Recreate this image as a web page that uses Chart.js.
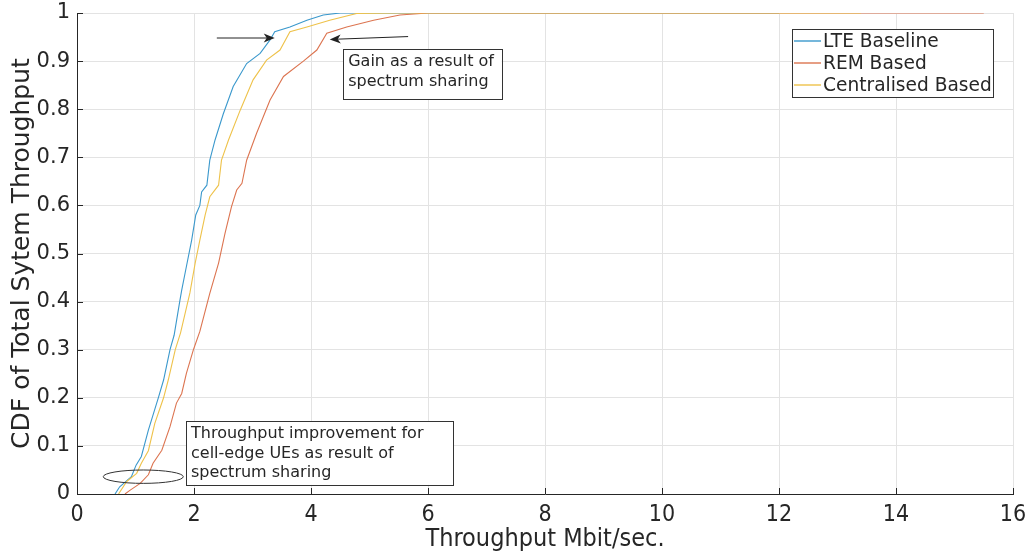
<!DOCTYPE html>
<html>
<head>
<meta charset="utf-8">
<script src="https://cdn.jsdelivr.net/npm/chart.js@4/dist/chart.umd.min.js"></script>
<style>
  body { margin: 0; background: #fff; }
</style>
</head>
<body>
<canvas id="cdfChart" width="1029" height="556"></canvas>
<script>
// CDF of throughput
const lteX = [0.65, 0.73, 0.93, 1.01, 1.10, 1.22, 1.39, 1.48, 1.59, 1.66, 1.76, 1.79, 1.87, 1.96, 2.03, 2.10, 2.13, 2.22, 2.27, 2.36, 2.50, 2.67, 2.90, 3.13, 3.30, 3.38, 3.64, 3.93, 4.21, 4.50, 4.80, 12.0];
const lteY = [0, 0.015, 0.036, 0.06, 0.078, 0.133, 0.20, 0.237, 0.30, 0.33, 0.403, 0.424, 0.473, 0.528, 0.58, 0.60, 0.628, 0.642, 0.694, 0.736, 0.79, 0.847, 0.895, 0.916, 0.944, 0.961, 0.971, 0.985, 0.996, 1.0, 1.0, 1.0];

const remX = [0.82, 0.91, 1.08, 1.22, 1.30, 1.45, 1.59, 1.70, 1.79, 1.87, 1.99, 2.10, 2.27, 2.42, 2.53, 2.64, 2.73, 2.82, 2.90, 3.07, 3.30, 3.53, 3.87, 4.10, 4.27, 4.61, 5.07, 5.52, 6.0, 15.5];
const remY = [0, 0.008, 0.022, 0.04, 0.064, 0.091, 0.14, 0.189, 0.209, 0.251, 0.30, 0.338, 0.417, 0.48, 0.542, 0.597, 0.632, 0.646, 0.694, 0.75, 0.819, 0.868, 0.90, 0.923, 0.958, 0.971, 0.985, 0.996, 1.0, 1.0];

const cenX = [0.71, 0.85, 1.02, 1.10, 1.22, 1.33, 1.48, 1.56, 1.68, 1.77, 1.93, 2.02, 2.10, 2.19, 2.27, 2.42, 2.47, 2.59, 2.79, 3.01, 3.24, 3.47, 3.64, 3.93, 4.32, 4.78, 5.5, 13.4];
const cenY = [0, 0.026, 0.043, 0.064, 0.09, 0.147, 0.20, 0.237, 0.30, 0.335, 0.418, 0.48, 0.528, 0.58, 0.618, 0.642, 0.694, 0.736, 0.798, 0.861, 0.902, 0.923, 0.961, 0.971, 0.985, 0.999, 1.0, 1.0];

const seriesNames = ['LTE Baseline', 'REM Based', 'Centralised Based'];
const seriesColors = ['#3a98cc', '#dc7450', '#eec24a'];

const xTicks = [0, 2, 4, 6, 8, 10, 12, 14, 16];
const yTicks = ['0', '0.1', '0.2', '0.3', '0.4', '0.5', '0.6', '0.7', '0.8', '0.9', '1'];

const toPts = (xs, ys) => xs.map((x, i) => ({ x, y: ys[i] }));

const ink = '#262626';
const fontN = 'DejaVu Sans';
const fontC = '"DejaVu Sans Condensed", "DejaVu Sans"';

// annotations in data units
const arrows = [
  { from: [2.39, 0.948], to: [3.38, 0.948] },
  { from: [5.66, 0.951], to: [4.32, 0.945] }
];
const noteBoxes = [
  { box: [4.55, 0.925, 7.26, 0.821], lines: ['Gain as a result of', 'spectrum sharing'] },
  { box: [1.863, 0.152, 6.43, 0.019], lines: ['Throughput improvement for', 'cell-edge UEs as result of', 'spectrum sharing'] }
];
const ellipse = { cx: 1.133, cy: 0.036, rx: 0.684, ry: 0.0139 };

const extrasPlugin = {
  id: 'extras',
  afterDatasetsDraw(chart) {
    const { ctx, chartArea, scales: { x, y } } = chart;
    ctx.save();

    // inward tick marks (matlab style)
    ctx.strokeStyle = ink;
    ctx.lineWidth = 1;
    ctx.beginPath();
    xTicks.forEach(v => {
      const px = Math.round(x.getPixelForValue(v)) + 0.5;
      ctx.moveTo(px, chartArea.bottom);
      ctx.lineTo(px, chartArea.bottom - 6);
    });
    yTicks.forEach(v => {
      const py = Math.round(y.getPixelForValue(+v)) + 0.5;
      ctx.moveTo(chartArea.left, py);
      ctx.lineTo(chartArea.left + 6, py);
    });
    ctx.stroke();

    // arrows
    ctx.strokeStyle = '#222';
    ctx.fillStyle = '#222';
    arrows.forEach(a => {
      const x0 = x.getPixelForValue(a.from[0]), y0 = y.getPixelForValue(a.from[1]);
      const x1 = x.getPixelForValue(a.to[0]), y1 = y.getPixelForValue(a.to[1]);
      const ang = Math.atan2(y1 - y0, x1 - x0);
      ctx.beginPath();
      ctx.moveTo(x0, y0);
      ctx.lineTo(x1 - 6 * Math.cos(ang), y1 - 6 * Math.sin(ang));
      ctx.stroke();
      ctx.save();
      ctx.translate(x1, y1);
      ctx.rotate(ang);
      ctx.beginPath();
      ctx.moveTo(0, 0);
      ctx.lineTo(-11, -4.5);
      ctx.lineTo(-8, 0);
      ctx.lineTo(-11, 4.5);
      ctx.closePath();
      ctx.fill();
      ctx.restore();
    });

    // text boxes
    noteBoxes.forEach(n => {
      const l = x.getPixelForValue(n.box[0]), t = y.getPixelForValue(n.box[1]);
      const r = x.getPixelForValue(n.box[2]), b = y.getPixelForValue(n.box[3]);
      ctx.fillStyle = '#fff';
      ctx.fillRect(l, t, r - l, b - t);
      ctx.strokeStyle = '#333';
      ctx.strokeRect(Math.round(l) + 0.5, Math.round(t) + 0.5, Math.round(r - l), Math.round(b - t));
      ctx.fillStyle = ink;
      ctx.font = `16px ${fontN}`;
      ctx.textBaseline = 'middle';
      ctx.textAlign = 'left';
      n.lines.forEach((s, i) => ctx.fillText(s, l + 5, t + 13 + i * 19.5));
    });

    // ellipse around the cell-edge area
    ctx.strokeStyle = '#333';
    ctx.beginPath();
    const ex = x.getPixelForValue(ellipse.cx), ey = y.getPixelForValue(ellipse.cy);
    const erx = x.getPixelForValue(ellipse.cx + ellipse.rx) - ex;
    const ery = ey - y.getPixelForValue(ellipse.cy + ellipse.ry);
    ctx.ellipse(ex, ey, erx, ery, 0, 0, Math.PI * 2);
    ctx.stroke();

    // legend box
    const lx = chartArea.right - 221, ly = chartArea.top + 16;
    ctx.fillStyle = '#fff';
    ctx.fillRect(lx, ly, 201, 68);
    ctx.strokeStyle = '#333';
    ctx.strokeRect(lx + 0.5, ly + 0.5, 201, 68);
    ctx.font = `18.6px ${fontN}`;
    ctx.textBaseline = 'middle';
    ctx.lineWidth = 1.4;
    seriesNames.forEach((name, i) => {
      const cy = ly + 12 + i * 22;
      ctx.strokeStyle = seriesColors[i];
      ctx.beginPath();
      ctx.moveTo(lx + 2, cy);
      ctx.lineTo(lx + 29, cy);
      ctx.stroke();
      ctx.fillStyle = ink;
      ctx.fillText(name, lx + 31, cy + 1);
    });

    ctx.restore();
  }
};

const ctx = document.getElementById('cdfChart').getContext('2d');
new Chart(ctx, {
  type: 'line',
  data: {
    datasets: [
      { label: seriesNames[0], data: toPts(lteX, lteY), borderColor: seriesColors[0], order: 2 },
      { label: seriesNames[1], data: toPts(remX, remY), borderColor: seriesColors[1], order: 1 },
      { label: seriesNames[2], data: toPts(cenX, cenY), borderColor: seriesColors[2], order: 0 }
    ]
  },
  options: {
    responsive: false,
    animation: false,
    elements: {
      line: { borderWidth: 1.1, tension: 0, fill: false },
      point: { radius: 0 }
    },
    layout: { padding: { top: 13, right: 16, left: 0, bottom: 0 } },
    plugins: {
      legend: { display: false },
      tooltip: { enabled: false }
    },
    scales: {
      x: {
        type: 'linear',
        min: 0,
        max: 16,
        afterBuildTicks: s => { s.ticks = xTicks.map(v => ({ value: v })); },
        afterFit: s => { s.height = 62; s.paddingLeft = 0; s.paddingRight = 0; },
        ticks: {
          color: ink,
          font: { family: fontC, size: 23 },
          padding: 7,
          maxRotation: 0,
          callback: v => String(v)
        },
        grid: { color: '#e3e3e3', drawTicks: false },
        border: { color: ink },
        title: {
          display: true,
          text: 'Throughput Mbit/sec.',
          color: ink,
          font: { family: fontC, size: 25 },
          padding: { top: 0, bottom: 2 }
        }
      },
      y: {
        type: 'linear',
        min: 0,
        max: 1,
        afterBuildTicks: s => { s.ticks = yTicks.map(v => ({ value: +v })); },
        afterFit: s => { s.width = 77; s.paddingTop = 0; s.paddingBottom = 0; },
        ticks: {
          color: ink,
          font: { family: fontN, size: 21 },
          padding: 7,
          callback: (v, i) => yTicks[i]
        },
        grid: { color: '#e3e3e3', drawTicks: false },
        border: { color: ink },
        title: {
          display: true,
          text: 'CDF of Total Sytem Throughput',
          color: ink,
          font: { family: fontN, size: 25 },
          padding: { top: 7, bottom: 0 }
        }
      }
    }
  },
  plugins: [extrasPlugin]
});
</script>
</body>
</html>
